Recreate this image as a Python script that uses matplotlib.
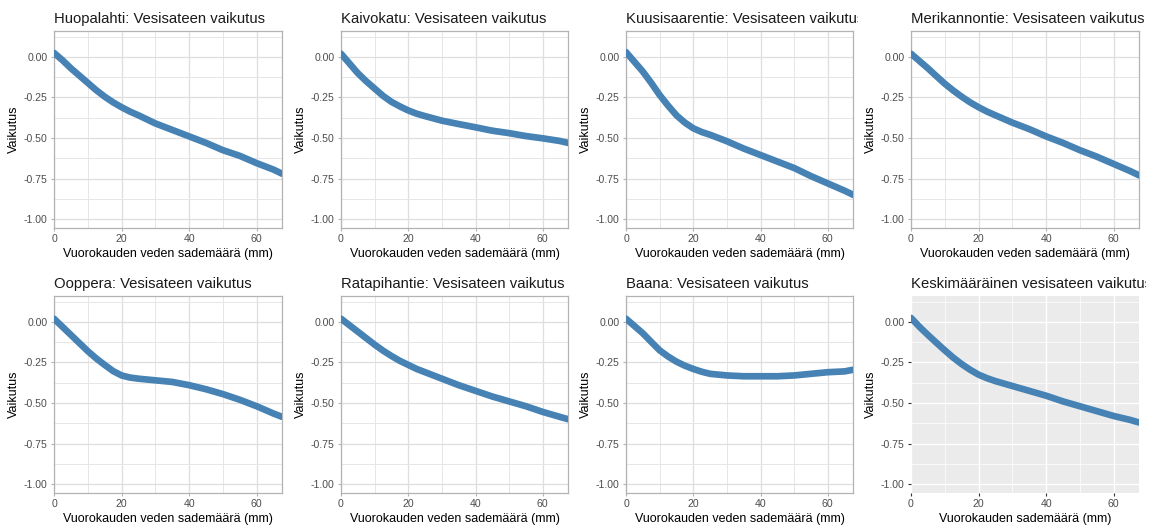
import numpy as np
import matplotlib.pyplot as plt
from matplotlib.transforms import Bbox

plt.rcParams['font.family'] = ['Liberation Sans', 'DejaVu Sans']

# sademäärä (mm)
rain = [0, 2.5, 5, 7.5, 10, 12.5, 15, 17.5, 20, 22.5, 25, 30, 35, 40, 45, 50, 55, 60, 65, 67.5]

huopalahti = [0.025, -0.02, -0.07, -0.115, -0.16, -0.205, -0.245, -0.28, -0.31, -0.337, -0.36,
              -0.41, -0.45, -0.49, -0.53, -0.575, -0.61, -0.655, -0.695, -0.72]
kaivokatu = [0.02, -0.04, -0.10, -0.15, -0.195, -0.24, -0.277, -0.305, -0.33, -0.35, -0.365,
             -0.393, -0.414, -0.434, -0.455, -0.47, -0.488, -0.502, -0.518, -0.53]
kuusisaarentie = [0.03, -0.03, -0.09, -0.16, -0.235, -0.30, -0.36, -0.405, -0.44, -0.463, -0.48,
                  -0.52, -0.565, -0.605, -0.645, -0.685, -0.735, -0.78, -0.825, -0.85]
merikannontie = [0.02, -0.025, -0.07, -0.118, -0.165, -0.207, -0.245, -0.28, -0.31, -0.337, -0.36,
                 -0.405, -0.445, -0.49, -0.53, -0.575, -0.615, -0.66, -0.705, -0.73]
ooppera = [0.02, -0.03, -0.08, -0.13, -0.18, -0.225, -0.265, -0.303, -0.33, -0.343, -0.35,
           -0.36, -0.37, -0.39, -0.415, -0.445, -0.48, -0.52, -0.565, -0.585]
ratapihantie = [0.02, -0.02, -0.06, -0.10, -0.14, -0.177, -0.21, -0.24, -0.265, -0.29, -0.31,
                -0.35, -0.39, -0.425, -0.46, -0.49, -0.52, -0.555, -0.585, -0.60]
baana = [0.02, -0.025, -0.07, -0.123, -0.175, -0.213, -0.245, -0.27, -0.29, -0.307, -0.32,
         -0.33, -0.335, -0.335, -0.335, -0.33, -0.32, -0.31, -0.305, -0.295]
keskiarvo = [0.025, -0.03, -0.08, -0.128, -0.175, -0.22, -0.26, -0.295, -0.325, -0.347, -0.365,
             -0.395, -0.425, -0.455, -0.49, -0.52, -0.55, -0.58, -0.605, -0.62]

titles = ['Huopalahti: Vesisateen vaikutus', 'Kaivokatu: Vesisateen vaikutus',
          'Kuusisaarentie: Vesisateen vaikutus', 'Merikannontie: Vesisateen vaikutus',
          'Ooppera: Vesisateen vaikutus', 'Ratapihantie: Vesisateen vaikutus',
          'Baana: Vesisateen vaikutus', 'Keskimääräinen vesisateen vaikutus']
series = [huopalahti, kaivokatu, kuusisaarentie, merikannontie,
          ooppera, ratapihantie, baana, keskiarvo]
xlabels = ['Vuorokauden veden sademäärä (mm)'] * 7 + ['Vuorokauden sademäärä (mm)']

W, H = 1164, 528
fig = plt.figure(figsize=(W / 100, H / 100), dpi=100)

# pixel boxes of the panels
lefts = [54, 341, 626, 911]
widths = [228, 227, 227, 228]
tops = [31, 296]
ph = 197
clip_right = [291, 575, 858, 1146]

for i in range(8):
    r, c = divmod(i, 4)
    x0 = lefts[c]
    y0 = H - tops[r] - ph
    ax = fig.add_axes([x0 / W, y0 / H, widths[c] / W, ph / H])
    last = (i == 7)
    ax.plot(rain, series[i], color='#4682B4', lw=4.8, solid_capstyle='round',
            solid_joinstyle='round', zorder=3)
    ax.set_xlim(0, 67.5)
    ax.set_ylim(-1.055, 0.16)
    ax.set_xticks([0, 20, 40, 60])
    ax.set_xticks([10, 30, 50], minor=True)
    ax.set_yticks([0, -0.25, -0.5, -0.75, -1.0])
    ax.set_yticklabels(['0.00', '-0.25', '-0.50', '-0.75', '-1.00'])
    ax.set_yticks([0.125, -0.125, -0.375, -0.625, -0.875], minor=True)
    if last:
        ax.set_facecolor('#EBEBEB')
        for s in ax.spines.values():
            s.set_visible(False)
        ax.grid(True, which='major', color='white', lw=1.0)
        ax.grid(True, which='minor', color='white', lw=0.5)
        tc = '#333333'
    else:
        for s in ax.spines.values():
            s.set_color('#B3B3B3')
            s.set_linewidth(0.9)
        ax.grid(True, which='major', color='#DEDEDE', lw=0.9)
        ax.grid(True, which='minor', color='#E6E6E6', lw=0.7)
        tc = '#B3B3B3'
    ax.set_axisbelow(True)
    ax.tick_params(which='major', length=2.5, width=0.8, color=tc,
                   labelsize=7.6, labelcolor='#4D4D4D', pad=2)
    ax.tick_params(which='minor', length=0)
    ax.set_xlabel(xlabels[i], fontsize=9, labelpad=2.5)
    ax.set_ylabel('Vaikutus', fontsize=9, labelpad=3)
    t = ax.set_title(titles[i], loc='left', fontsize=10.7, pad=6, color='#1A1A1A')
    t.set_clip_box(Bbox.from_extents(0, 0, clip_right[c], H))
    t.set_clip_on(True)

fig.savefig('out.png', dpi=100, facecolor='white')
